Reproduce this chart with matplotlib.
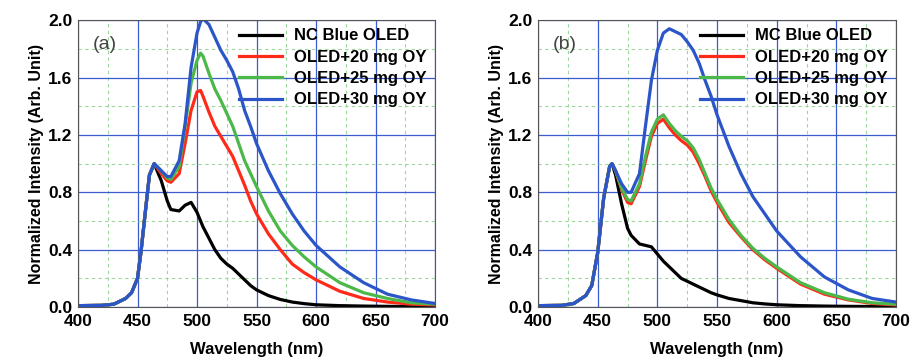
import matplotlib
matplotlib.use('Agg')
import matplotlib.pyplot as plt
from matplotlib.ticker import MultipleLocator

plt.rcParams['font.family'] = ['Liberation Sans', 'DejaVu Sans']

# -------------------------
# DATA
# -------------------------
wl_a = [400, 420, 430, 440, 445, 450, 453, 456, 460, 464, 470, 475, 478, 485, 490, 495, 500, 503, 505,
        510, 515, 520, 525, 530, 535, 540, 545, 550, 560, 570, 580, 590, 600, 620, 640, 660, 680, 700]
nc_blue = [0.01, 0.012, 0.02, 0.06, 0.1, 0.2, 0.39, 0.62, 0.92, 1.0, 0.88, 0.74, 0.68, 0.67, 0.71, 0.73, 0.66, 0.60, 0.56,
           0.48, 0.40, 0.34, 0.30, 0.27, 0.23, 0.19, 0.15, 0.12, 0.08, 0.053, 0.035, 0.024, 0.016, 0.01, 0.007, 0.005, 0.004, 0.003]
a_20mg = [0.01, 0.012, 0.02, 0.06, 0.1, 0.2, 0.39, 0.62, 0.92, 1.0, 0.93, 0.88, 0.87, 0.93, 1.14, 1.37, 1.50, 1.51, 1.47,
          1.36, 1.26, 1.19, 1.12, 1.05, 0.95, 0.85, 0.74, 0.65, 0.51, 0.40, 0.30, 0.24, 0.19, 0.11, 0.06, 0.035, 0.02, 0.015]
a_25mg = [0.01, 0.012, 0.02, 0.06, 0.1, 0.2, 0.39, 0.62, 0.92, 1.0, 0.95, 0.90, 0.89, 0.98, 1.26, 1.56, 1.72, 1.77, 1.75,
          1.63, 1.52, 1.44, 1.35, 1.26, 1.14, 1.02, 0.93, 0.84, 0.67, 0.53, 0.43, 0.35, 0.28, 0.17, 0.10, 0.06, 0.03, 0.02]
a_30mg = [0.01, 0.012, 0.02, 0.06, 0.1, 0.2, 0.39, 0.62, 0.92, 1.0, 0.95, 0.91, 0.91, 1.02, 1.28, 1.67, 1.91, 1.99, 2.01,
          1.97, 1.88, 1.79, 1.72, 1.64, 1.52, 1.37, 1.26, 1.14, 0.95, 0.79, 0.65, 0.53, 0.43, 0.28, 0.17, 0.09, 0.05, 0.025]

wl_b = [400, 420, 430, 440, 445, 450, 455, 460, 462, 465, 470, 475, 478, 485, 490, 495, 500, 505,
        510, 515, 520, 525, 530, 535, 540, 545, 550, 560, 570, 580, 590, 600, 620, 640, 660, 680, 700]
mc_blue = [0.01, 0.012, 0.025, 0.08, 0.15, 0.38, 0.76, 0.98, 1.0, 0.92, 0.72, 0.55, 0.50, 0.44, 0.43, 0.42, 0.37, 0.32,
           0.28, 0.24, 0.20, 0.18, 0.16, 0.14, 0.12, 0.10, 0.085, 0.06, 0.045, 0.03, 0.022, 0.016, 0.01, 0.007, 0.005, 0.004, 0.003]
b_20mg = [0.01, 0.012, 0.025, 0.08, 0.15, 0.38, 0.76, 0.98, 1.0, 0.95, 0.82, 0.73, 0.72, 0.84, 1.02, 1.19, 1.28, 1.31,
          1.25, 1.20, 1.16, 1.13, 1.08, 1.00, 0.91, 0.81, 0.73, 0.59, 0.49, 0.40, 0.33, 0.27, 0.16, 0.09, 0.05, 0.025, 0.015]
b_25mg = [0.01, 0.012, 0.025, 0.08, 0.15, 0.38, 0.76, 0.98, 1.0, 0.95, 0.83, 0.75, 0.74, 0.86, 1.05, 1.22, 1.31, 1.34,
          1.28, 1.23, 1.19, 1.16, 1.11, 1.03, 0.93, 0.83, 0.75, 0.61, 0.50, 0.41, 0.34, 0.28, 0.17, 0.10, 0.055, 0.03, 0.02]
b_30mg = [0.01, 0.012, 0.025, 0.08, 0.15, 0.38, 0.76, 0.98, 1.0, 0.95, 0.86, 0.80, 0.80, 0.93, 1.26, 1.58, 1.79, 1.91,
          1.94, 1.92, 1.90, 1.85, 1.79, 1.70, 1.58, 1.47, 1.34, 1.12, 0.93, 0.77, 0.65, 0.53, 0.35, 0.21, 0.12, 0.06, 0.035]

labels_a = ['NC Blue OLED', 'OLED+20 mg OY', 'OLED+25 mg OY', 'OLED+30 mg OY']
labels_b = ['MC Blue OLED', 'OLED+20 mg OY', 'OLED+25 mg OY', 'OLED+30 mg OY']
colors = ['#000000', '#ff2a1a', '#4cb84a', '#2b55c8']


def draw_panel(ax, wl, series, labels, tag):
    for ys, lab, c in zip(series, labels, colors):
        ax.plot(wl, ys, color=c, lw=2.3, label=lab, solid_joinstyle='round')
    ax.set_xlim(400, 700)
    ax.set_ylim(0, 2.0)
    ax.xaxis.set_major_locator(MultipleLocator(50))
    ax.xaxis.set_minor_locator(MultipleLocator(25))
    ax.yaxis.set_major_locator(MultipleLocator(0.4))
    ax.yaxis.set_minor_locator(MultipleLocator(0.2))
    ax.yaxis.set_major_formatter(plt.FuncFormatter(lambda v, p: f'{v:.1f}'))
    ax.grid(which='major', color='#3a5ccc', lw=0.9, ls='-')
    ax.grid(which='minor', color='#9ad89a', lw=0.8, ls=(0, (3, 3)))
    ax.set_axisbelow(True)
    ax.tick_params(which='both', length=0, labelsize=12.5)
    ax.tick_params(axis='x', pad=5)
    ax.tick_params(axis='y', pad=4)
    for lbl in ax.get_xticklabels() + ax.get_yticklabels():
        lbl.set_fontweight('bold')
    for sp in ax.spines.values():
        sp.set_color('#555555')
        sp.set_linewidth(0.8)
    ax.set_xlabel('Wavelength (nm)', fontsize=12, fontweight='bold', labelpad=9)
    ax.set_ylabel('Normalized Intensity (Arb. Unit)', fontsize=11.5, fontweight='bold', labelpad=3)
    ax.text(0.04, 0.945, tag, transform=ax.transAxes, fontsize=14, color='#444444', va='top')
    leg = ax.legend(loc='upper right', frameon=False, fontsize=12, handlelength=2.6,
                    handletextpad=0.7, labelspacing=0.38, borderaxespad=0.1,
                    bbox_to_anchor=(1.0, 1.0))
    for t in leg.get_texts():
        t.set_fontweight('bold')


fig = plt.figure(figsize=(9.11, 3.6), dpi=100)
ax_a = fig.add_axes([0.0856, 0.147, 0.392, 0.797])
ax_b = fig.add_axes([0.5906, 0.147, 0.393, 0.797])

draw_panel(ax_a, wl_a, [nc_blue, a_20mg, a_25mg, a_30mg], labels_a, '(a)')
draw_panel(ax_b, wl_b, [mc_blue, b_20mg, b_25mg, b_30mg], labels_b, '(b)')

fig.savefig('out.png', dpi=100)
